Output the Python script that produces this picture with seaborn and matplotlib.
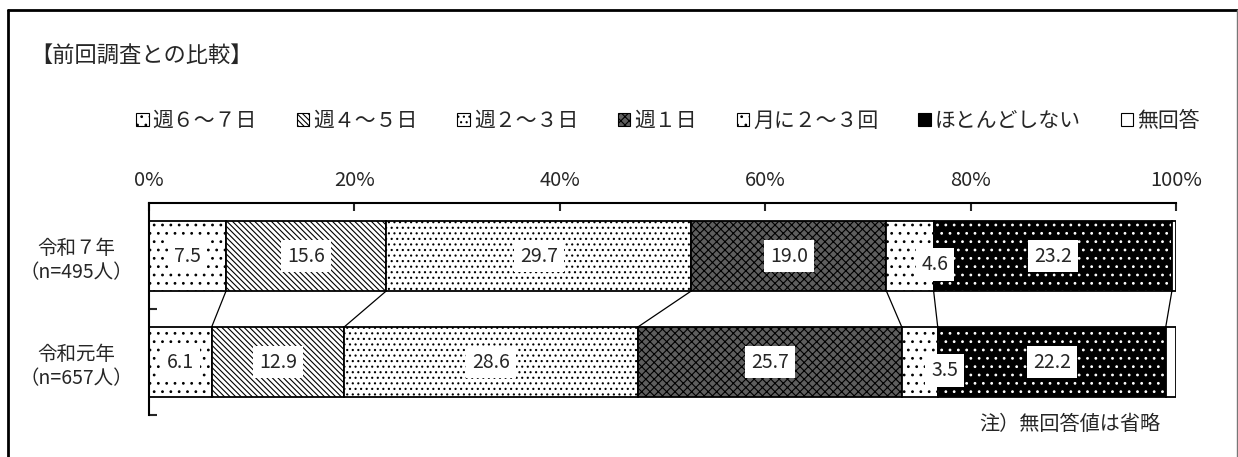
import matplotlib
matplotlib.use("Agg")
import matplotlib.pyplot as plt
import matplotlib.patches as mpatches
from matplotlib.lines import Line2D
import numpy as np
import pandas as pd
import seaborn as sns

# data (percent)
years = ["令和７年\n（n=495人）", "令和元年\n（n=657人）"]
categories = ["週６〜７日", "週４〜５日", "週２〜３日", "週１日", "月に２〜３回", "ほとんどしない", "無回答"]
r7_values = [7.5, 15.6, 29.7, 19.0, 4.6, 23.2, 0.4]
r1_values = [6.1, 12.9, 28.6, 25.7, 3.5, 22.2, 1.0]
show_label = [True, True, True, True, True, True, False]

# fill pattern per category: (facecolor, hatch, hatch colour)
styles = [
    ("white", "..", "black"),
    ("white", "\\" * 6, "black"),
    ("white", "...", "black"),
    ("#5e5e5e", "xxxx", "black"),
    ("white", "..", "black"),
    ("black", "..", "white"),
    ("white", "", "black"),
]

sns.set_style("white")
plt.rcParams["font.family"] = ["Noto Sans CJK JP", "DejaVu Sans"]
plt.rcParams["hatch.linewidth"] = 0.8

fig = plt.figure(figsize=(12.38, 4.57), dpi=100)
ax = fig.add_axes([149 / 1238, 1 - 415 / 457, 1027 / 1238, 212 / 457])

values = np.array([r7_values, r1_values])
lefts = np.hstack([np.zeros((2, 1)), np.cumsum(values, axis=1)[:, :-1]])
bar_w = 0.66

for i, cat in enumerate(categories):
    face, hatch, hcol = styles[i]
    df = pd.DataFrame({"year": years, "value": values[:, i]})
    # pattern layer
    sns.barplot(data=df, y="year", x="value", orient="y", ax=ax, errorbar=None,
                width=bar_w, color=face, saturation=1, left=lefts[:, i], facecolor=face,
                hatch=hatch, edgecolor=hcol, linewidth=0)
    # outline layer
    sns.barplot(data=df, y="year", x="value", orient="y", ax=ax, errorbar=None,
                width=bar_w, color="black", left=lefts[:, i], fill=False,
                edgecolor="black", linewidth=1.3)

# connecting lines between the two bars
ends = np.cumsum(values, axis=1)
for j in range(len(categories) - 1):
    ax.plot([ends[0, j], ends[1, j]], [bar_w / 2, 1 - bar_w / 2], color="black", lw=0.9)

# value labels
for r in range(2):
    for i in range(len(categories)):
        if not show_label[i]:
            continue
        v = values[r, i]
        cx = lefts[r, i] + v / 2
        dx, dy = (0, 0)
        if v < 5:
            dx, dy = (18, -6)
        ax.annotate(f"{v:.1f}", (cx, r), xytext=(dx, dy), textcoords="offset points",
                    ha="center", va="center", fontsize=14,
                    bbox=dict(boxstyle="square,pad=0.3", facecolor="white", edgecolor="none"))

ax.set_xlim(0, 100)
ax.set_ylim(1.5, -0.5)
ax.set_xlabel("")
ax.set_ylabel("")
ax.xaxis.tick_top()
ax.set_xticks(np.arange(0, 101, 20))
ax.set_xticklabels([f"{t}%" for t in range(0, 101, 20)], fontsize=14.5)
ax.tick_params(axis="x", direction="in", length=6, width=1.5, pad=9, top=True, bottom=False)
ax.set_yticks([0, 1])
ax.set_yticklabels(years, fontsize=14, ha="center", linespacing=1.2)
ax.tick_params(axis="y", length=0, pad=52)
ax.set_yticks([0.5, 1.5], minor=True)
ax.tick_params(axis="y", which="minor", direction="in", length=6, width=1.5, left=True)
for s in ["right", "bottom"]:
    ax.spines[s].set_visible(False)
for s in ["top", "left"]:
    ax.spines[s].set_linewidth(1.5)
    ax.spines[s].set_color("black")

# legend
handles = [mpatches.Patch(facecolor=styles[i][0], hatch=styles[i][1], edgecolor="black",
                          linewidth=0.8) for i in range(len(categories))]
fig.legend(handles, categories, loc="center", bbox_to_anchor=(668 / 1238, 1 - 121 / 457), ncol=7,
           frameon=False, fontsize=15, handlelength=0.6, handleheight=0.6,
           handletextpad=0.2, columnspacing=1.9)

fig.text(30 / 1238, 1 - 55 / 457, "【前回調査との比較】", fontsize=16, ha="left", va="center")
fig.text(1160 / 1238, 1 - 425 / 457, "注）無回答値は省略", fontsize=14.5, ha="right", va="center")

# outer frame
fig.add_artist(Line2D([8 / 1238, 1237 / 1238], [1 - 10 / 457, 1 - 10 / 457], transform=fig.transFigure, color="black", lw=2))
fig.add_artist(Line2D([8 / 1238, 8 / 1238], [0, 1 - 10 / 457], transform=fig.transFigure, color="black", lw=2))
fig.add_artist(Line2D([1237 / 1238, 1237 / 1238], [0, 1 - 10 / 457], transform=fig.transFigure, color="#777777", lw=1))

fig.savefig("out.png", dpi=100)
